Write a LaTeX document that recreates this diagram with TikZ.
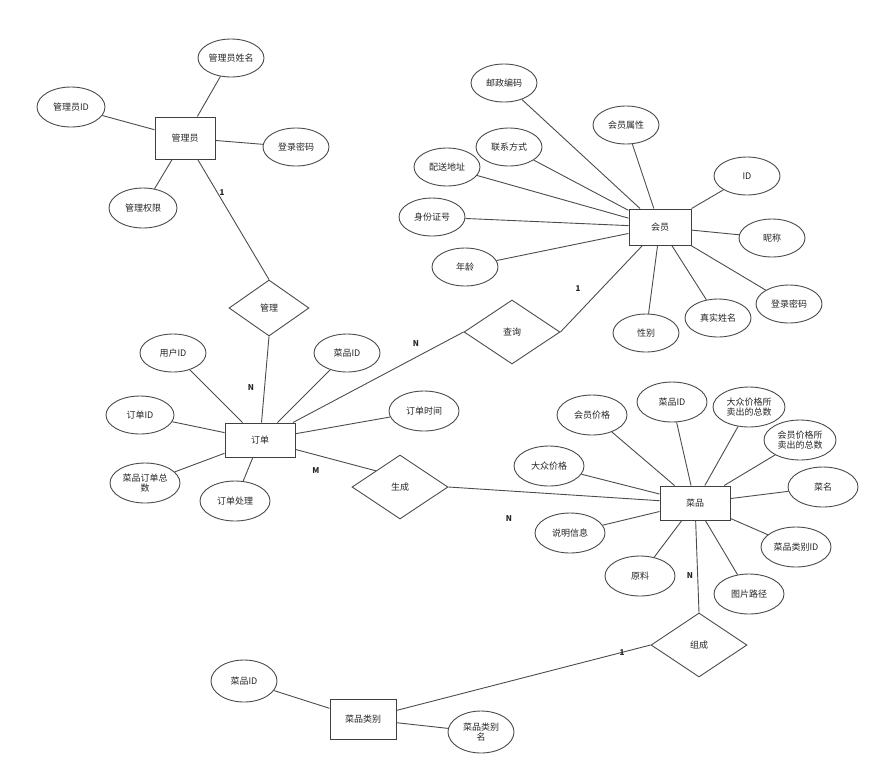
\documentclass[tikz,border=0pt]{standalone}
\usepackage{fontspec}
\setmainfont{Noto Sans CJK SC}
\usetikzlibrary{shapes.geometric}
\begin{document}
\begin{tikzpicture}[x=1pt,y=-1pt,
 every node/.style={font=\fontsize{9}{10}\selectfont, text=black!85},
 ent/.style={draw=black!75, line width=1pt, fill=white, minimum width=60pt, minimum height=40pt, inner sep=1pt},
 att/.style={ellipse, draw=black!70, line width=0.9pt, fill=white, minimum width=66pt, minimum height=38pt, inner sep=0pt, align=center},
 rel/.style={diamond, draw=black!70, line width=0.9pt, fill=white, minimum width=96pt, minimum height=64pt, aspect=1.5, inner sep=0pt},
 ln/.style={draw=black!70, line width=0.9pt},
 card/.style={font=\fontsize{8}{9}\selectfont\bfseries}]
\useasboundingbox (0,0) rectangle (883,780);
% entities
\node[ent, minimum width=60pt, minimum height=42pt] (gly) at (185,138) {管理员};
\node[ent, minimum width=70pt, minimum height=34pt] (dd) at (260,440) {订单};
\node[ent, minimum width=62pt, minimum height=36pt] (hy) at (660,227) {会员};
\node[ent, minimum width=70pt, minimum height=34pt] (cp) at (695,503) {菜品};
\node[ent, minimum width=66pt, minimum height=40pt] (lb) at (363,719) {菜品类别};
% relations
\node[rel, minimum width=80pt, minimum height=56pt] (gl) at (269,308) {管理};
\node[rel] (cx) at (512,332) {查询};
\node[rel] (sc) at (400,487) {生成};
\node[rel] (zc) at (699,645) {组成};
% attributes of 管理员
\node[att] (a1) at (231,58) {管理员姓名};
\node[att, minimum width=68pt, minimum height=40pt] (a2) at (71,107) {管理员ID};
\node[att] (a3) at (296,147) {登录密码};
\node[att, minimum width=68pt, minimum height=40pt] (a4) at (143,208) {管理权限};
% attributes of 订单
\node[att] (b1) at (173,353) {用户ID};
\node[att] (b2) at (347,353) {菜品ID};
\node[att, minimum width=68pt, minimum height=38pt] (b3) at (140,415) {订单ID};
\node[att, minimum width=70pt, minimum height=40pt] (b4) at (424,411) {订单时间};
\node[att, minimum width=70pt, minimum height=40pt] (b5) at (145,483) {菜品订单总\\数};
\node[att, minimum width=70pt, minimum height=40pt] (b6) at (235,501) {订单处理};
% attributes of 会员
\node[att] (c1) at (504,83) {邮政编码};
\node[att] (c2) at (626,125) {会员属性};
\node[att] (c3) at (509,147) {联系方式};
\node[att] (c4) at (447,167) {配送地址};
\node[att] (c5) at (747,176) {ID};
\node[att] (c6) at (432,217) {身份证号};
\node[att] (c7) at (772,238) {昵称};
\node[att] (c8) at (465,267) {年龄};
\node[att] (c9) at (789,304) {登录密码};
\node[att] (c10) at (646,333) {性别};
\node[att] (c11) at (718,318) {真实姓名};
% attributes of 菜品
\node[att, minimum width=70pt, minimum height=40pt] (d1) at (592,415) {会员价格};
\node[att, minimum width=70pt, minimum height=40pt] (d2) at (672,402) {菜品ID};
\node[att, minimum width=72pt, minimum height=40pt] (d3) at (749,407) {大众价格所\\卖出的总数};
\node[att, minimum width=72pt, minimum height=40pt] (d4) at (800,440) {会员价格所\\卖出的总数};
\node[att, minimum width=70pt, minimum height=40pt] (d5) at (549,466) {大众价格};
\node[att, minimum width=70pt, minimum height=40pt] (d6) at (823,487) {菜名};
\node[att, minimum width=70pt, minimum height=40pt] (d7) at (570,533) {说明信息};
\node[att, minimum width=70pt, minimum height=40pt] (d8) at (796,547) {菜品类别ID};
\node[att, minimum width=70pt, minimum height=40pt] (d9) at (640,576) {原料};
\node[att, minimum width=70pt, minimum height=40pt] (d10) at (749,594) {图片路径};
% attributes of 菜品类别
\node[att, minimum width=66pt, minimum height=42pt] (e1) at (244,681) {菜品ID};
\node[att, minimum width=66pt, minimum height=42pt] (e2) at (481,732) {菜品类别\\名};
% edges
\begin{scope}[on background layer/.try]
\end{scope}
\foreach \a in {a1,a2,a3,a4} \draw[ln] (gly) -- (\a);
\foreach \a in {b1,b2,b3,b4,b5,b6} \draw[ln] (dd) -- (\a);
\foreach \a in {c1,c2,c3,c4,c5,c6,c7,c8,c9,c10,c11} \draw[ln] (hy) -- (\a);
\foreach \a in {d1,d2,d3,d4,d5,d6,d7,d8,d9,d10} \draw[ln] (cp) -- (\a);
\foreach \a in {e1,e2} \draw[ln] (lb) -- (\a);
\draw[ln] (gly) -- (gl.north);
\draw[ln] (gl.south) -- (dd);
\draw[ln] (dd) -- (cx.west);
\draw[ln] (cx.east) -- (hy);
\draw[ln] (dd) -- (sc.north west);
\draw[ln] (sc.east) -- (cp);
\draw[ln] (cp) -- (zc.north);
\draw[ln] (zc.west) -- (lb);
% cardinalities
\node[card] at (222,193) {1};
\node[card] at (251,388) {N};
\node[card] at (416,344) {N};
\node[card] at (578,289) {1};
\node[card] at (316,471) {M};
\node[card] at (509,519) {N};
\node[card] at (690,576) {N};
\node[card] at (622,653) {1};
\end{tikzpicture}
\end{document}
